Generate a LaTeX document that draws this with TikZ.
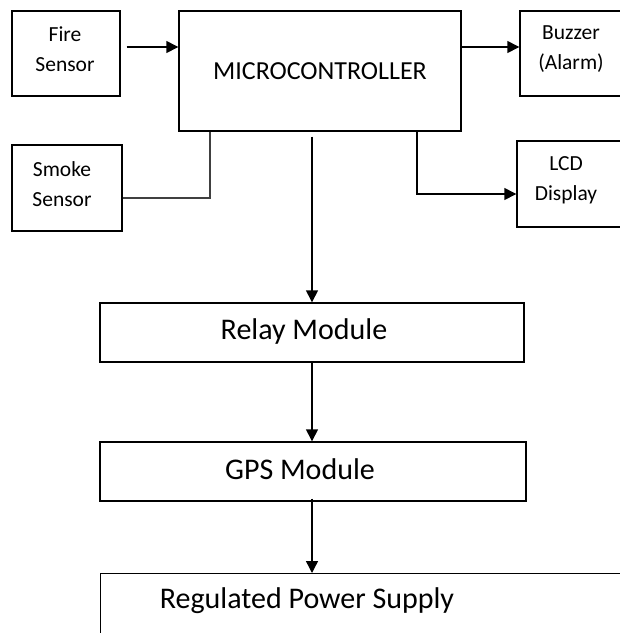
\documentclass[tikz,border=0pt]{standalone}
\usepackage{fontspec}
\setmainfont{Carlito}
\usetikzlibrary{arrows.meta}

\tikzset{
  box/.style={draw=black, line width=1.4pt, fill=white, inner sep=0pt},
  small/.style={font=\fontsize{21.5}{30}\selectfont, inner sep=0pt, align=center},
  big/.style={font=\fontsize{30}{34}\selectfont, inner sep=0pt},
  wire/.style={line width=1.4pt, black},
  arr/.style={wire, -{Triangle[length=12pt,width=12pt]}}
}

\begin{document}
\begin{tikzpicture}[x=1pt,y=-1pt]
  \useasboundingbox (0,0) rectangle (620,633);
  \clip (0,0) rectangle (620,633);

  % input / output blocks
  \node[box, minimum width=108, minimum height=85] (fire) at (66,53.5) {};
  \node[small] (firetxt) at (65,49) {Fire\\Sensor};
  \node[box, font=\fontsize{26}{30}\selectfont, minimum width=282, minimum height=120] (micro) at (320,71) {MICROCONTROLLER};
  \node[box, minimum width=104, minimum height=85] (buzzer) at (572,53.5) {};
  \node[small] (buzzertxt) at (571,49) {Buzzer\\(Alarm)};
  \node[box, minimum width=110, minimum height=86] (smoke) at (67,188) {};
  \node[small] (smoketxt) at (62,184) {Smoke\\Sensor};
  \node[box, minimum width=107, minimum height=86] (lcd) at (570.5,184) {};
  \node[small] (lcdtxt) at (566,180) {LCD\\Display};

  % chain below the controller
  \node[box, minimum width=424, minimum height=59] (relay) at (312,332.5) {};
  \node[big] (relaytxt) at (304,331) {Relay Module};
  \node[box, minimum width=426, minimum height=59] (gps) at (313,471.5) {};
  \node[big] (gpstxt) at (300,469) {GPS Module};
  \node[box, anchor=north west, minimum width=560, minimum height=90] (power) at (100,573) {};
  \node[big] (powertxt) at (307,601) {Regulated Power Supply};

  % connectors
  \draw[arr] ([xshift=6pt]fire.east |- 0,47) -- (micro.west |- 0,47);
  \draw[arr] (micro.east |- 0,47) -- (buzzer.west |- 0,47);
  \draw[wire, black!75] (smoke.east |- 0,198) -| (micro.south -| 210,0);
  \draw[arr] (micro.south -| 417,0) |- (lcd.west |- 0,194);
  \draw[arr] ([yshift=-5pt]micro.south -| relay.north) -- (relay.north);
  \draw[arr] (relay.south) -- (gps.north -| relay.south);
  \draw[arr] ([yshift=3pt]gps.south -| relay.south) -- (power.north -| relay.south);
\end{tikzpicture}
\end{document}
